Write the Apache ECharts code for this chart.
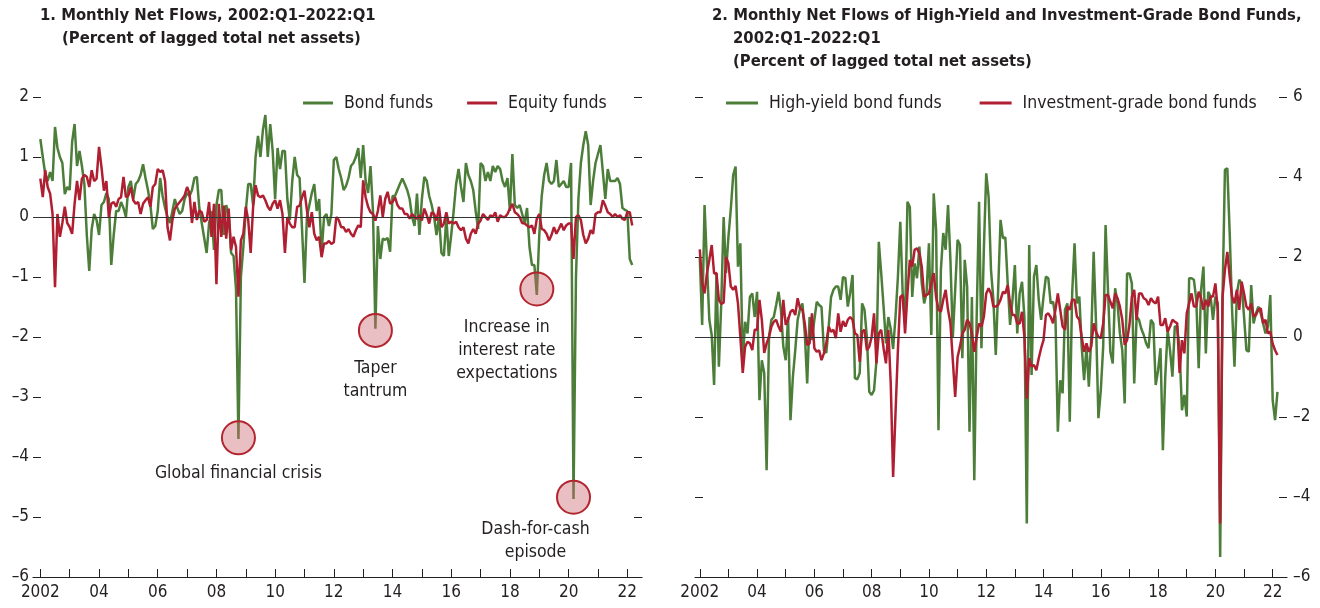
<!DOCTYPE html>
<html>
<head>
<meta charset="utf-8">
<script src="https://cdn.jsdelivr.net/npm/echarts@6/dist/echarts.min.js"></script>
<style>
  html, body { margin: 0; padding: 0; background: #fff; }
  #chart { width: 1320px; height: 608px; }
</style>
</head>
<body>
<div id="chart"></div>
<script>
(function() {
  var FONT = "'Liberation Sans Narrow', 'DejaVu Sans Condensed', sans-serif";
  var ink = '#231f20';
  var green = '#4c7e3a';
  var red = '#b01f31';

  // monthly data, 2002:01 .. 2022:03
  var bondFunds = [
    1.3, 1.0, 0.72, 0.6, 0.75, 0.6, 1.5, 1.15, 1.0, 0.9,
    0.38, 0.5, 0.45, 1.25, 1.55, 0.85, 1.1, 0.85, 0.55, -0.3,
    -0.9, -0.2, 0.05, -0.05, -0.3, 0.2, 0.25, 0.4, 0.3, -0.8,
    -0.3, 0.1, 0.1, 0.25, 0.15, 0.0, 0.5, 0.6, 0.3, 0.55,
    0.6, 0.7, 0.88, 0.65, 0.45, 0.2, -0.2, -0.15, 0.1, 0.65,
    0.35, 0.15, 0.0, -0.1, 0.1, 0.3, 0.15, 0.05, 0.1, 0.3,
    0.4, 0.35, 0.45, 0.65, 0.67, 0.15, -0.1, -0.35, -0.6, -0.1,
    0.1, -0.55, 0.2, 0.45, 0.45, -0.3, 0.2, 0.05, -0.6, -0.65,
    -1.2, -3.7, -1.0, -0.5, 0.1, 0.55, 0.55, 0.2, 1.0, 1.35,
    1.0, 1.45, 1.7, 1.0, 1.55, 1.1, 0.3, 1.15, 0.8, 1.1,
    1.1, 0.3, -0.05, 0.6, 1.0, 0.7, 0.65, -0.2, -1.1, 0.0,
    0.2, 0.4, 0.55, 0.1, 0.3, -0.6, 0.0, 0.05, -0.15, 0.05,
    0.95, 1.0, 0.8, 0.65, 0.45, 0.52, 0.65, 0.85, 0.9, 1.0,
    1.15, 0.65, 1.2, 0.6, 0.4, 0.85, 0.1, -1.86, -0.15, -0.7,
    -0.36, -0.38, -0.35, -0.58, 0.35, 0.35, 0.45, 0.55, 0.64, 0.55,
    0.45, 0.3, 0.0, -0.15, 0.39, -0.3, 0.3, 0.67, 0.6, 0.35,
    0.2, 0.0, -0.3, 0.0, -0.6, -0.65, 0.0, -0.65, -0.3, 0.1,
    0.55, 0.8, 0.5, 0.25, 0.9, 0.7, 0.6, 0.45, 0.1, -0.2,
    0.9, 0.85, 0.6, 0.75, 0.6, 0.85, 0.75, 0.85, 0.8, 0.6,
    0.5, 0.65, 0.1, 1.05, 0.2, 0.15, 0.2, 0.05, -0.1, 0.15,
    -0.5, -0.8, -0.8, -1.3, -0.3, 0.35, 0.7, 0.9, 0.6, 0.55,
    0.6, 0.95, 0.5, 0.55, 0.6, 0.5, 0.5, 0.9, -4.7, -1.0,
    0.3, 0.9, 1.2, 1.43, 1.2, 0.2, 0.6, 0.9, 1.05, 1.2,
    0.75, 0.3, 0.8, 0.6, 0.6, 0.6, 0.65, 0.55, 0.15, 0.12,
    0.1, -0.7, -0.8
  ];
  var equityFunds = [
    0.64, 0.33, 0.78, 0.5, 0.39, 0.05, -1.17, 0.05, -0.33, -0.1,
    0.17, -0.1, -0.17, -0.28, 0.22, 0.6, 0.28, 0.64, 0.7, 0.67,
    0.5, 0.78, 0.6, 0.64, 1.17, 0.83, 0.44, 0.6, 0.0, 0.22,
    0.25, 0.17, 0.3, 0.33, 0.67, 0.33, 0.36, 0.5, 0.28, 0.22,
    0.25, 0.05, 0.22, 0.28, 0.33, 0.17, 0.5, 0.55, 0.8, 0.75,
    0.78, 0.6, -0.17, -0.39, -0.05, 0.14, 0.2, 0.25, 0.3, 0.36,
    0.5, 0.39, -0.1, 0.25, -0.05, 0.11, 0.08, -0.08, -0.05, 0.25,
    -0.33, 0.22, -1.12, 0.22, -0.33, 0.19, -0.36, 0.14, -0.55, -0.33,
    -0.5, -1.33, -0.39, -0.28, 0.17, -0.05, -0.6, 0.17, 0.53, 0.36,
    0.33, 0.36, 0.28, 0.17, 0.11, 0.22, 0.28, 0.14, 0.28, 0.05,
    -0.6, 0.0, -0.11, -0.17, -0.17, 0.17, 0.19, 0.33, 0.44, 0.11,
    -0.17, 0.08, -0.28, -0.39, -0.33, -0.67, -0.44, -0.44, -0.4, -0.45,
    -0.42, 0.0, -0.05, -0.17, -0.17, -0.25, -0.2, -0.28, -0.33, -0.22,
    -0.14, -0.17, 0.61, 0.33, 0.17, 0.08, 0.05, -0.06, 0.1, 0.36,
    0.0, 0.3, 0.42, 0.22, 0.25, 0.33, 0.2, 0.14, 0.14, 0.05,
    0.05, -0.03, 0.05, 0.0, -0.03, 0.03, -0.06, 0.14, 0.03, -0.11,
    0.08, 0.05, -0.06, 0.17, -0.17, -0.11, 0.08, -0.11, -0.08, -0.11,
    -0.08, -0.17, -0.22, -0.17, -0.36, -0.44, -0.28, -0.2, -0.28, -0.11,
    -0.06, 0.05, 0.0, -0.05, 0.03, 0.0, 0.08, -0.08, 0.03, 0.0,
    0.0, 0.05, 0.14, 0.22, 0.08, 0.05, 0.0, -0.1, -0.11, -0.14,
    -0.17, -0.14, -0.28, -0.03, 0.05, -0.2, -0.22, -0.28, -0.39, -0.3,
    -0.17, -0.28, -0.2, -0.11, -0.22, -0.14, -0.11, -0.11, -0.7, 0.0,
    0.03, -0.05, -0.3, -0.44, -0.36, -0.22, -0.28, 0.05, 0.08, 0.08,
    0.28, 0.19, 0.08, 0.05, 0.0, 0.05, 0.0, 0.03, -0.03, -0.05,
    0.08, 0.08, -0.14
  ];
  var highYield = [
    2.0, 0.3, 3.3, 1.85, 0.43, 0.05, -1.2, 1.6, -0.74, 0.84,
    3.0, 1.6, 2.5, 3.2, 4.05, 4.26, 1.76, 2.34, -0.58, 0.38,
    0.09, 1.0, 1.09, 0.5, 1.13, -1.58, -0.58, -0.9, -3.33, 0.0,
    0.43, 0.5, 0.8, 1.13, 0.68, -0.24, -0.58, 0.5, -2.08, -1.0,
    -0.33, 0.43, 0.7, 0.84, 0.09, -1.16, 0.5, -0.08, 0.43, 0.88,
    0.8, 0.75, -0.33, -0.4, 0.26, 1.0, 1.18, 1.26, 1.26, 0.93,
    1.5, 1.47, 0.76, 1.1, 1.55, -1.03, -1.06, -0.9, 0.84, 0.68,
    0.0, -1.37, -1.45, -1.33, -0.6, 2.38, 1.6, 0.76, -0.16, 0.5,
    0.2, -0.3, 0.5, 1.5, 2.88, 1.1, 0.34, 3.38, 3.25, 1.0,
    1.84, 1.47, 2.26, 1.34, 0.84, 1.1, 2.34, 0.05, 3.59, 2.67,
    -2.33, 1.68, 2.6, 2.18, 3.3, 1.93, 0.0, 1.18, 2.43, 2.3,
    -0.53, 1.93, 1.26, -2.37, 1.0, -3.58, 0.5, 3.38, -0.28, 2.18,
    4.09, 3.5, 1.68, 0.93, -0.45, 1.18, 2.93, 2.47, 2.49, 1.34,
    0.3, 0.93, 1.8, 0.09, 1.09, 1.38, 0.5, -4.66, 2.3, -0.95,
    1.51, 1.8, 0.93, 0.43, 1.01, 1.51, 1.47, 0.84, 0.88, 0.5,
    -2.37, -1.08, -1.41, 0.68, 0.84, -2.12, 1.09, 2.34, 0.84, 1.01,
    -0.24, -1.08, -0.24, -1.24, 0.0, 2.13, 0.34, -2.03, -1.33, -0.24,
    2.8, 1.18, -0.37, -0.66, 1.22, 0.84, 0.09, -0.33, -1.66, 1.59,
    1.59, 1.34, -1.16, 0.51, 0.43, 0.2, 0.05, -0.16, -0.28, 0.43,
    0.34, -1.2, -0.83, -0.28, -2.83, -0.99, 0.18, -0.33, -0.99, 0.26,
    0.26, -0.33, -1.83, -1.45, -1.99, 1.47, 1.47, 1.43, 0.93, -0.78,
    1.18, 1.76, -0.41, 1.13, 1.01, 0.43, 1.01, 0.84, -5.5, 1.0,
    4.18, 4.22, 2.59, 0.68, -0.74, 1.09, 1.43, 1.34, 0.51, -0.33,
    -0.37, 1.3, 0.34, 0.59, 0.76, 0.59, 0.34, 0.09, 0.26, 1.05,
    -1.58, -2.08, -1.37
  ];
  var investmentGrade = [
    2.19, 1.34, 1.09, 1.59, 1.93, 2.3, 1.59, 1.6, 0.93, 0.83,
    0.86, 2.0, 1.84, 1.26, 1.18, 1.28, 0.84, 0.0, -0.9, -0.24,
    -0.12, -0.16, -0.33, 0.18, 0.18, 0.93, 0.43, -0.4, -0.16, 0.0,
    0.26, 0.38, 0.43, 0.26, 0.13, 0.93, 0.3, 0.43, 0.63, 0.68,
    0.55, 0.97, 0.72, 0.68, 0.34, -0.2, -0.16, 0.59, -0.28, -0.37,
    -0.33, -0.58, -0.41, -0.16, 0.26, 0.13, 0.18, -0.03, 0.59, 0.13,
    0.4, 0.26, 0.43, 0.5, 0.43, 0.09, 0.05, -0.62, 0.13, 0.18,
    -0.33, -0.24, 0.0, 0.59, -0.66, 0.09, 0.18, -0.28, -0.66, 0.18,
    -1.16, -3.5, -1.9, -0.33, 1.0, 1.05, 0.09, 1.09, 1.93, 1.76,
    2.18, 2.22, 2.09, 1.76, 1.01, 1.05, 1.09, 1.34, 1.6, 1.0,
    0.68, 0.63, 0.93, 1.18, 0.68, 0.34, -0.58, -1.5, -0.5, -0.24,
    0.09, 0.18, 0.43, 0.34, 0.09, -0.37, 0.0, 0.34, 0.26, 0.5,
    1.09, 1.22, 1.09, 0.76, 0.76, 0.8, 0.93, 1.13, 1.09, 1.3,
    0.84, 0.55, 0.55, 0.34, 0.34, 0.63, 0.0, -1.54, -0.53, -0.74,
    -0.7, -0.83, -0.53, -0.28, -0.08, 0.55, 0.59, 0.5, 0.34, 0.68,
    1.09, 0.68, 0.26, 0.18, 0.76, 0.68, 0.93, 0.93, 0.51, 0.43,
    0.0, -0.37, -0.16, -0.37, -0.24, 0.34, 0.13, 0.0, -0.03, 0.34,
    1.05, 1.05, 0.88, 0.72, 1.09, 0.97, 0.76, 0.43, -0.2, -0.08,
    0.3, 1.0, 1.18, 0.43, 1.09, 1.09, 0.97, 0.93, 0.8, 0.97,
    0.88, 0.84, 1.01, 0.3, 0.3, 0.47, 0.13, 0.26, 0.43, 0.38,
    0.34, -0.9, -0.08, -0.41, 0.59, 0.84, 1.09, 0.76, 0.76, 1.13,
    0.97, 0.68, 0.93, 0.76, 1.01, 1.01, 1.34, 0.68, -4.66, 1.0,
    1.68, 2.13, 1.51, 1.01, 0.84, 1.18, 0.68, 1.38, 1.09, 0.76,
    0.68, 0.84, 0.51, 0.55, 0.68, 0.72, 0.34, 0.43, 0.09, 0.13,
    -0.17, -0.33, -0.45
  ];

  // annotated episodes on the bond funds line
  var events = [
    { month: '2008-10', value: -3.68, text: 'Global financial crisis' },
    { month: '2013-06', value: -1.89, text: 'Taper\ntantrum' },
    { month: '2018-12', value: -1.2, text: 'Increase in\ninterest rate\nexpectations' },
    { month: '2020-03', value: -4.67, text: 'Dash-for-cash\nepisode' }
  ];
  var eventLabelOffset = [[0, 0], [0, 2], [-30, 2], [-38, -4]];

  var leftTicks = [-6, -5, -4, -3, -2, -1, 0, 1, 2];
  var rightTicks = [-6, -4, -2, 0, 2, 4, 6];

  function monthRange(y, m, count) {
    var out = [];
    for (var i = 0; i < count; i++) {
      out.push(y + '-' + (m < 10 ? '0' + m : m));
      m++;
      if (m > 12) { m = 1; y++; }
    }
    return out;
  }
  var dataMonths = monthRange(2002, 1, 243);
  var leftCats = monthRange(2001, 10, 250);
  var rightCats = monthRange(2001, 11, 249);

  function pairs(vals) {
    return vals.map(function(v, i) { return [dataMonths[i], v]; });
  }
  function dash(v) { return String(v).replace('-', '\u2013'); }

  function xAxis(gridIndex, cats) {
    return {
      type: 'category', gridIndex: gridIndex, data: cats, boundaryGap: false,
      axisLine: { show: true, onZero: false, lineStyle: { color: ink, width: 1.2 } },
      axisTick: {
        show: true, inside: true, length: 8, lineStyle: { color: ink },
        interval: function(i, v) { return v.slice(5) === '01'; }
      },
      axisLabel: {
        color: ink, fontFamily: FONT, fontSize: 17, margin: 7,
        interval: function(i, v) { return v.slice(5) === '01' && (+v.slice(0, 4)) % 2 === 0; },
        formatter: function(v) { var y = v.slice(0, 4); return y === '2002' ? y : y.slice(2); }
      },
      splitLine: { show: false }
    };
  }
  function yAxis(gridIndex, pos, ticks, labels) {
    return {
      type: 'value', gridIndex: gridIndex, position: pos,
      min: ticks[0], max: ticks[ticks.length - 1], interval: ticks[1] - ticks[0],
      axisLine: { show: false },
      axisTick: { show: true, inside: true, length: 8, lineStyle: { color: ink } },
      axisLabel: { show: labels, color: ink, fontFamily: FONT, fontSize: 17, margin: pos === 'left' ? 4 : 6, formatter: dash },
      splitLine: { show: false }
    };
  }
  var zeroLine = {
    silent: true, symbol: 'none', label: { show: false },
    lineStyle: { color: '#333', width: 1, type: 'solid' },
    data: [{ yAxis: 0 }]
  };
  function line(name, vals, color, xi, yi, extra) {
    var s = {
      name: name, type: 'line', xAxisIndex: xi, yAxisIndex: yi,
      data: pairs(vals), symbol: 'none', z: 3,
      lineStyle: { color: color, width: 2.5 }, itemStyle: { color: color }
    };
    if (extra) s.markLine = zeroLine;
    return s;
  }

  var titleStyle = { color: ink, fontFamily: FONT, fontSize: 16.5, fontWeight: 'bold' };
  var legendText = { color: ink, fontFamily: FONT, fontSize: 17.5, padding: [0, 0, 0, 6] };

  var chart = echarts.init(document.getElementById('chart'));
  chart.setOption({
    animation: false,
    title: [
      { text: '1. Monthly Net Flows, 2002:Q1\u20132022:Q1', left: 40, top: 7, padding: 0, textStyle: titleStyle },
      { text: '(Percent of lagged total net assets)', left: 62, top: 30, padding: 0, textStyle: titleStyle },
      { text: '2. Monthly Net Flows of High-Yield and Investment-Grade Bond Funds,', left: 712, top: 7, padding: 0, textStyle: titleStyle },
      { text: '2002:Q1\u20132022:Q1', left: 733, top: 30, padding: 0, textStyle: titleStyle },
      { text: '(Percent of lagged total net assets)', left: 733, top: 53, padding: 0, textStyle: titleStyle }
    ],
    legend: [
      { data: ['Bond funds', 'Equity funds'], left: 303, top: 94, width: 340, padding: 0, icon: 'rect',
        itemWidth: 30, itemHeight: 3, itemGap: 34, textStyle: legendText },
      { data: ['High-yield bond funds', 'Investment-grade bond funds'], left: 726, top: 94, width: 580, padding: 0, icon: 'rect',
        itemWidth: 32, itemHeight: 3, itemGap: 38, textStyle: legendText }
    ],
    grid: [
      { left: 33, width: 609, top: 97, height: 480 },
      { left: 695, width: 592, top: 97, height: 480 }
    ],
    xAxis: [xAxis(0, leftCats), xAxis(1, rightCats)],
    yAxis: [
      yAxis(0, 'left', leftTicks, true),
      yAxis(0, 'right', leftTicks, false),
      yAxis(1, 'left', rightTicks, false),
      yAxis(1, 'right', rightTicks, true)
    ],
    series: [
      line('Bond funds', bondFunds, green, 0, 0, true),
      line('Equity funds', equityFunds, red, 0, 0),
      line('High-yield bond funds', highYield, green, 1, 3, true),
      line('Investment-grade bond funds', investmentGrade, red, 1, 3),
      {
        type: 'scatter', xAxisIndex: 0, yAxisIndex: 0, z: 4, silent: true,
        symbolSize: 33,
        itemStyle: { color: 'rgba(204,102,112,0.42)', borderColor: '#b3252f', borderWidth: 2, opacity: 1 },
        label: {
          show: true, position: 'bottom', distance: 7, color: ink,
          fontFamily: FONT, fontSize: 17.5, lineHeight: 23, align: 'center',
          formatter: function(p) { return p.data.text; }
        },
        data: events.map(function(e, i) {
          return { value: [e.month, e.value], text: e.text, label: { offset: eventLabelOffset[i] } };
        })
      }
    ]
  });
  window.addEventListener('resize', function() { chart.resize(); });
})();
</script>
</body>
</html>
